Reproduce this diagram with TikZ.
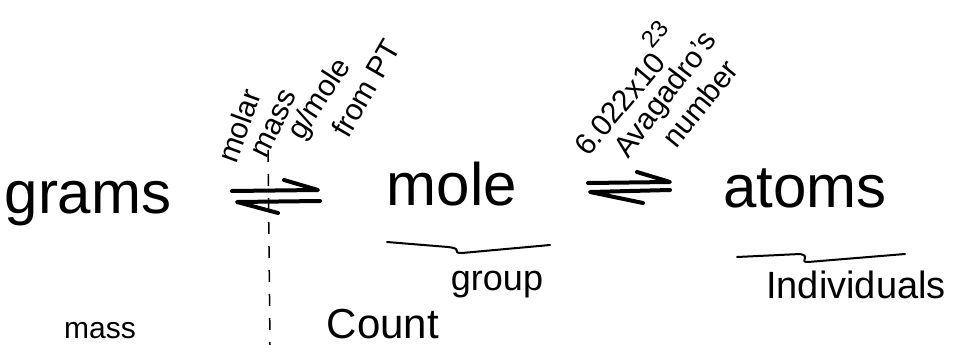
\documentclass[tikz,border=0pt]{standalone}
\usepackage{fontspec}
\setmainfont{Liberation Sans}
\begin{document}
\begin{tikzpicture}[x=1pt,y=-1pt,
  bigword/.style={inner sep=0pt, anchor=base, font=\fontsize{60}{64}\selectfont},
  smallword/.style={inner sep=0pt, anchor=base, font=\fontsize{36}{40}\selectfont},
  slanted/.style={inner sep=0pt, anchor=base west, font=\fontsize{30}{34}\selectfont},
  pen/.style={line width=4pt, line cap=round, line join=round},
  thinpen/.style={line width=2pt, line cap=round, line join=round},
  divider/.style={line width=1.5pt, dash pattern=on 12pt off 12pt}]
\useasboundingbox (0,0) rectangle (961,345);

% the three quantities
\node[bigword] (grams) at (88,213) {grams};
\node[bigword] (mole) at (452,205) {mole};
\node[bigword] (atoms) at (805,207) {atoms};

% grams <-> mole harpoons
\coordinate (ga) at (232,191);
\coordinate (gb) at (318,190);
\coordinate (gbarb) at (284,180);
\coordinate (gc) at (237,202);
\coordinate (gd) at (320,201);
\coordinate (gdbarb) at (278,213);
\draw[pen] (ga) -- (gb) -- (gbarb);
\draw[pen] (gdbarb) -- (gc) -- (gd);

% mole <-> atoms harpoons
\coordinate (ma) at (588,183);
\coordinate (mb) at (670,182);
\coordinate (mbarb) at (637,172);
\coordinate (mc) at (590,192);
\coordinate (md) at (670,190);
\coordinate (mdbarb) at (643,203);
\draw[pen] (ma) -- (mb) -- (mbarb);
\draw[pen] (mdbarb) -- (mc) -- (md);

% conversion factors
\node[slanted, rotate=70] (molar) at (236,165) {molar};
\node[slanted, rotate=64] (mass1) at (266,160) {mass};
\node[slanted, rotate=57] (gmole) at (302,142) {g/mole};
\node[slanted, rotate=60] (frompt) at (348,140) {from PT};
\node[slanted, rotate=50] (avo) at (588,158)
  {6.022x10\hspace{1pt}\raisebox{20pt}{\fontsize{24}{24}\selectfont 23}};
\node[slanted, rotate=53] (avname) at (628,160) {Avagadro's};
\node[slanted, rotate=51] (number) at (676,150) {number};

% mass | count divider
\coordinate (dtop) at (268,150);
\coordinate (dbot) at (270,345);
\draw[divider] (dtop) -- (dbot);

% underlines
\coordinate (u1a) at (387,242);
\coordinate (u1b) at (448,247);
\coordinate (u1c) at (462,253);
\coordinate (u1d) at (550,245);
\draw[thinpen] (u1a) -- (u1b) .. controls (465,249) and (450,253) .. (u1c) -- (u1d);
\coordinate (u2a) at (737,257);
\coordinate (u2b) at (800,254);
\coordinate (u2c) at (808,262);
\coordinate (u2d) at (905,254);
\draw[thinpen] (u2a) -- (u2b) .. controls (812,256) and (798,262) .. (u2c) -- (u2d);

% descriptions
\node[smallword] (group) at (497,290) {group};
\node[smallword, font=\fontsize{38}{42}\selectfont] (indiv) at (856,298) {Individuals};
\node[smallword, font=\fontsize{30}{34}\selectfont] (mass2) at (100,338) {mass};
\node[smallword, font=\fontsize{42}{46}\selectfont] (count) at (383,338) {Count};
\end{tikzpicture}
\end{document}
